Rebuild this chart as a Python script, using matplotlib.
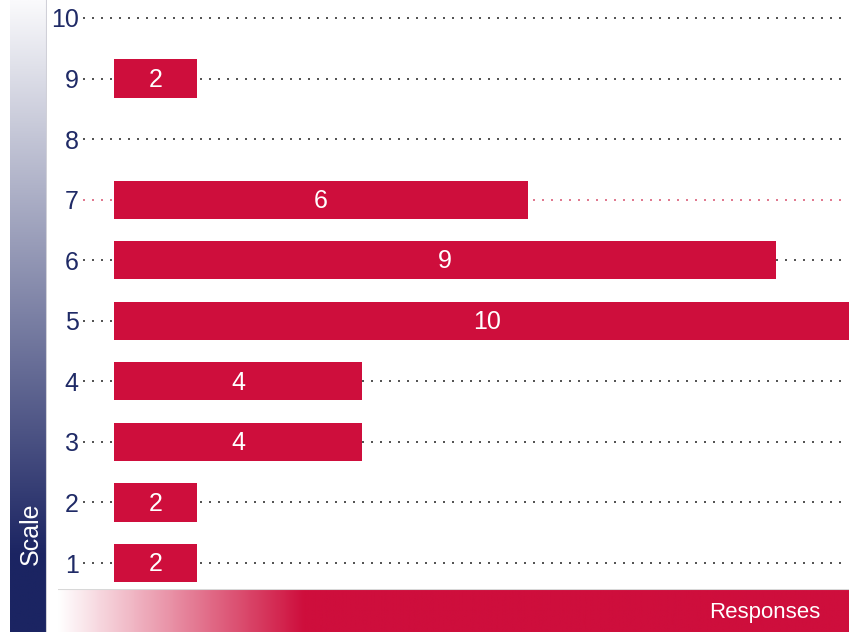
import numpy as np
import matplotlib.pyplot as plt
from matplotlib.colors import LinearSegmentedColormap

plt.rcParams['font.family'] = ['Liberation Sans', 'DejaVu Sans']

# data
scale = [1, 2, 3, 4, 5, 6, 7, 8, 9, 10]
responses = [2, 2, 4, 4, 10, 9, 6, 0, 2, 0]
highlight = 7
baseline = 1

RED = '#CE0E3C'
NAVY = '#1B2462'
TXT = '#1F2A66'

W, H = 849, 632
fig = plt.figure(figsize=(W / 100, H / 100), dpi=100)

# left vertical gradient strip
axl = fig.add_axes([10 / W, 0, 37 / W, 1])
cm_v = LinearSegmentedColormap.from_list('v', [(0, '#FAFAFC'), (0.88, NAVY), (1, NAVY)])
axl.imshow(np.linspace(0, 1, 256).reshape(-1, 1), aspect='auto', cmap=cm_v,
           extent=[0, 1, 0, 1], origin='upper')
axl.axvline(1, color='#D0D0D8', lw=1.5)
axl.set_xlim(0, 1)
axl.set_ylim(0, 1)
axl.axis('off')
axl.text(0.57, 1 - 534 / H, 'Scale', rotation=90, color='white', fontsize=18,
         ha='center', va='center', transform=axl.transAxes)

# bottom horizontal gradient strip
axb = fig.add_axes([58 / W, 0, 1 - 58 / W, 43 / H])
cm_h = LinearSegmentedColormap.from_list('h', ['#FFFFFF', RED])
grad = np.clip(np.linspace(0, 1, 800) / (247 / 791), 0, 1).reshape(1, -1)
axb.imshow(grad, aspect='auto', cmap=cm_h, extent=[0, 1, 0, 1])
axb.axhline(1, color='#D8D8D8', lw=1.5)
axb.set_xlim(0, 1)
axb.set_ylim(0, 1)
axb.axis('off')
axb.text((765 - 58) / (W - 58), 0.45, 'Responses', color='white', fontsize=16,
         ha='center', va='center', transform=axb.transAxes)

# main bar chart (x: 114px -> 1, ~82.8 px per unit)
ppu = 82.8
x0 = 1 - 31 / ppu
x1 = 1 + 735 / ppu
ax = fig.add_axes([83 / W, 43 / H, 1 - 83 / W, 589 / H])
ax.set_xlim(x0, x1)
ax.set_ylim(0.571, 10.297)

for y in scale:
    c = '#E07A90' if y == highlight else '#555555'
    ax.hlines(y, x0, 1 + 731 / ppu, colors=c, linestyles=(0, (1, 3.5)), lw=1.44, zorder=1)

sc = np.array(scale)
vals = np.array(responses)
keep = vals > 0
ax.barh(sc[keep], vals[keep] - baseline, left=baseline, height=0.63, color=RED, zorder=2)
for y, v in zip(scale, responses):
    if v > 0:
        ax.text((baseline + v) / 2, y - 0.02, str(v), color='white', fontsize=18,
                ha='center', va='center', zorder=3)

ax.set_yticks(scale)
ax.set_yticklabels([str(s) for s in scale], fontsize=18, color=TXT)
ax.tick_params(axis='y', length=0, pad=3)
ax.set_xticks([])
for s in ax.spines.values():
    s.set_visible(False)

fig.savefig('out.png', dpi=100)
